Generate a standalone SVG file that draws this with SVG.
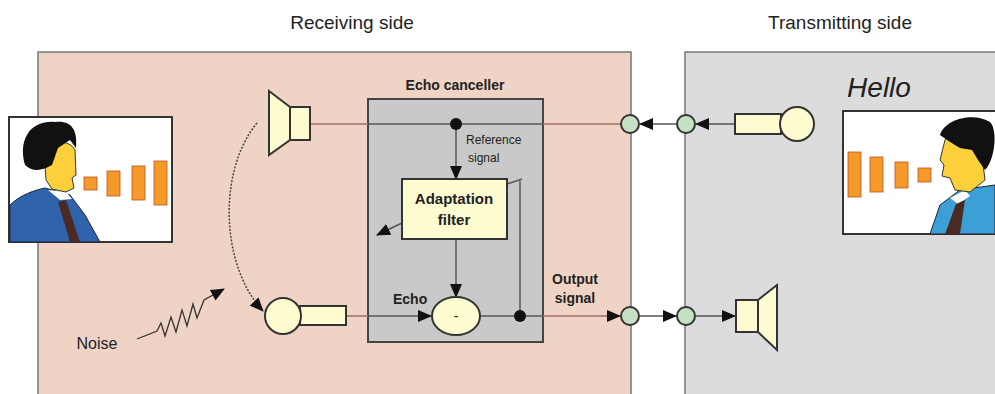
<svg xmlns="http://www.w3.org/2000/svg" width="995" height="394" viewBox="0 0 995 394">
<style>
.t{font-family:"Liberation Sans",Arial,sans-serif;fill:#222}
.ln{stroke:#a86a66;stroke-width:1.5;fill:none}
.lg{stroke:#555;stroke-width:1.5;fill:none}
.conn{fill:#c6e0c4;stroke:#333;stroke-width:2}
.yel{fill:#fdfbd0;stroke:#333;stroke-width:2}
</style>
<defs>
<marker id="arr" viewBox="0 0 14 12" refX="13" refY="6" markerWidth="14" markerHeight="12" markerUnits="userSpaceOnUse" orient="auto">
<path d="M0,0 L14,6 L0,12 z" fill="#111"/>
</marker>
</defs>
<rect width="995" height="394" fill="#fff"/>
<g id="receiving-panel">
<rect x="38" y="52" width="593" height="360" fill="#efd4c6" stroke="#777" stroke-width="1.5"/>
<text class="t" x="352" y="29" font-size="19" text-anchor="middle">Receiving side</text>
</g>
<g id="transmitting-panel">
<rect x="685" y="52" width="330" height="360" fill="#dcdcdc" stroke="#777" stroke-width="1.5"/>
<text class="t" x="840" y="29" font-size="19" text-anchor="middle">Transmitting side</text>
<text class="t" x="879" y="97" font-size="28" font-style="italic" text-anchor="middle">Hello</text>
</g>
<g id="echo-canceller">
<rect x="368" y="99" width="175" height="243" fill="#c9c9c9" stroke="#444" stroke-width="2"/>
<text class="t" x="455" y="90" font-size="14" font-weight="bold" text-anchor="middle">Echo canceller</text>
</g>
<g id="connectors">
<line class="ln" x1="310" y1="124" x2="368" y2="124"/>
<line class="lg" x1="368" y1="124" x2="543" y2="124"/>
<line class="ln" x1="543" y1="124" x2="622" y2="124"/>
<line class="lg" x1="677" y1="124" x2="640" y2="124" marker-end="url(#arr)"/>
<line class="lg" x1="735" y1="124" x2="696" y2="124" marker-end="url(#arr)"/>
<line class="lg" x1="456" y1="124" x2="456" y2="179" marker-end="url(#arr)"/>
<circle cx="456" cy="124" r="6" fill="#111"/>
<line class="lg" x1="456" y1="239" x2="456" y2="297" marker-end="url(#arr)"/>
<line class="lg" x1="522" y1="179" x2="507" y2="184" stroke-width="1.2"/>
<line class="lg" x1="402" y1="223" x2="377" y2="235" stroke-width="1.2" marker-end="url(#arr)"/>
<line class="lg" x1="520" y1="181" x2="520" y2="316"/>
<line class="ln" x1="346" y1="316" x2="368" y2="316"/>
<line class="lg" x1="368" y1="316" x2="431" y2="316" marker-end="url(#arr)"/>
<line class="lg" x1="481" y1="316" x2="543" y2="316"/>
<line class="ln" x1="543" y1="316" x2="620" y2="316" marker-end="url(#arr)"/>
<line class="lg" x1="640" y1="316" x2="676" y2="316" marker-end="url(#arr)"/>
<line class="lg" x1="696" y1="316" x2="735" y2="316" marker-end="url(#arr)"/>
<circle cx="520" cy="316" r="6" fill="#111"/>
<path d="M257,123 C218,170 220,265 263,311" fill="none" stroke="#444" stroke-width="1.5" stroke-dasharray="2,1.5" marker-end="url(#arr)"/>
<path d="M137,339 L157,331 L161,323 L165,336 L171,317 L176,332 L182,310 L187,326 L193,304 L197,318 L204,300 L224,289" fill="none" stroke="#333" stroke-width="1.3" marker-end="url(#arr)"/>
<text class="t" x="97" y="349" font-size="16" text-anchor="middle">Noise</text>
<text class="t" x="466" y="144" font-size="12">Reference</text>
<text class="t" x="468" y="162" font-size="12">signal</text>
<text class="t" x="393" y="304" font-size="14" font-weight="bold">Echo</text>
<text class="t" x="575" y="284" font-size="14" font-weight="bold" text-anchor="middle">Output</text>
<text class="t" x="575" y="303" font-size="14" font-weight="bold" text-anchor="middle">signal</text>
</g>
<g id="adaptation-filter">
<rect class="yel" x="402" y="179" width="105" height="60"/>
<text class="t" x="454" y="204" font-size="15" font-weight="bold" text-anchor="middle">Adaptation</text>
<text class="t" x="454" y="225" font-size="15" font-weight="bold" text-anchor="middle">filter</text>
</g>
<g id="subtractor">
<ellipse class="yel" cx="456" cy="316" rx="24" ry="19"/>
<text class="t" x="456" y="321" font-size="14" text-anchor="middle">-</text>
</g>
<g id="connector-nodes">
<circle class="conn" cx="630" cy="124" r="9"/>
<circle class="conn" cx="686" cy="124" r="9"/>
<circle class="conn" cx="630" cy="316" r="9"/>
<circle class="conn" cx="686" cy="316" r="9"/>
</g>
<g id="speaker-rx">
<polygon class="yel" points="269,91 290,107 290,140 269,155"/>
<rect class="yel" x="290" y="107" width="20" height="33"/>
</g>
<g id="mic-rx">
<rect class="yel" x="300" y="306" width="46" height="19"/>
<circle class="yel" cx="283" cy="316" r="18"/>
</g>
<g id="mic-tx">
<rect class="yel" x="735" y="114" width="46" height="20"/>
<circle class="yel" cx="797" cy="124" r="17"/>
</g>
<g id="speaker-tx">
<rect class="yel" x="736" y="300" width="22" height="32"/>
<polygon class="yel" points="758,300 777,285 777,350 758,332"/>
</g>
<g id="person-rx">
<rect x="9" y="117" width="163" height="125" fill="#fff" stroke="#333" stroke-width="2"/>
<path d="M10,242 L10,205 C20,195 35,190 45,188 L70,195 L85,215 L100,242 z" fill="#2f64ad" stroke="#223" stroke-width="1"/>
<path d="M48,190 L60,200 L72,199 L66,192 z" fill="#fff"/>
<path d="M58,202 L66,200 L80,242 L70,242 z" fill="#4a2a22"/>
<path d="M44,150 C50,138 70,140 75,150 L76,175 L72,178 L74,188 L66,192 L52,189 L46,180 z" fill="#fcd03a" stroke="#333" stroke-width="1"/>
<path d="M25,165 C18,140 30,120 55,122 C70,120 78,128 76,148 L70,140 L58,148 L52,165 L46,168 C40,170 32,172 25,165 z" fill="#111"/>
<rect x="84" y="177" width="13" height="13" fill="#f39a2a" stroke="#c05020" stroke-width="0.8"/>
<rect x="107" y="171" width="13" height="25" fill="#f39a2a" stroke="#c05020" stroke-width="0.8"/>
<rect x="132" y="166" width="13" height="34" fill="#f39a2a" stroke="#c05020" stroke-width="0.8"/>
<rect x="154" y="161" width="13" height="44" fill="#f39a2a" stroke="#c05020" stroke-width="0.8"/>
</g>
<g id="person-tx">
<rect x="843" y="111" width="160" height="123" fill="#fff" stroke="#333" stroke-width="2"/>
<path d="M930,234 L940,205 L960,190 L995,185 L995,234 z" fill="#3aa0d6" stroke="#223" stroke-width="1"/>
<path d="M950,198 L965,190 L970,196 L958,204 z" fill="#fff"/>
<path d="M956,204 L965,200 L960,234 L945,234 z" fill="#4a2a22"/>
<path d="M945,140 C950,128 975,130 980,140 L985,180 L970,192 L955,190 L950,178 L942,176 L944,165 L940,160 z" fill="#fcd03a" stroke="#333" stroke-width="1"/>
<path d="M940,135 C945,118 975,112 990,122 C998,130 995,160 985,170 L978,160 L972,150 L960,148 L950,142 z" fill="#111"/>
<rect x="848" y="152" width="13" height="45" fill="#f39a2a" stroke="#c05020" stroke-width="0.8"/>
<rect x="870" y="157" width="13" height="35" fill="#f39a2a" stroke="#c05020" stroke-width="0.8"/>
<rect x="895" y="162" width="13" height="26" fill="#f39a2a" stroke="#c05020" stroke-width="0.8"/>
<rect x="918" y="168" width="13" height="14" fill="#f39a2a" stroke="#c05020" stroke-width="0.8"/>
</g>
</svg>
